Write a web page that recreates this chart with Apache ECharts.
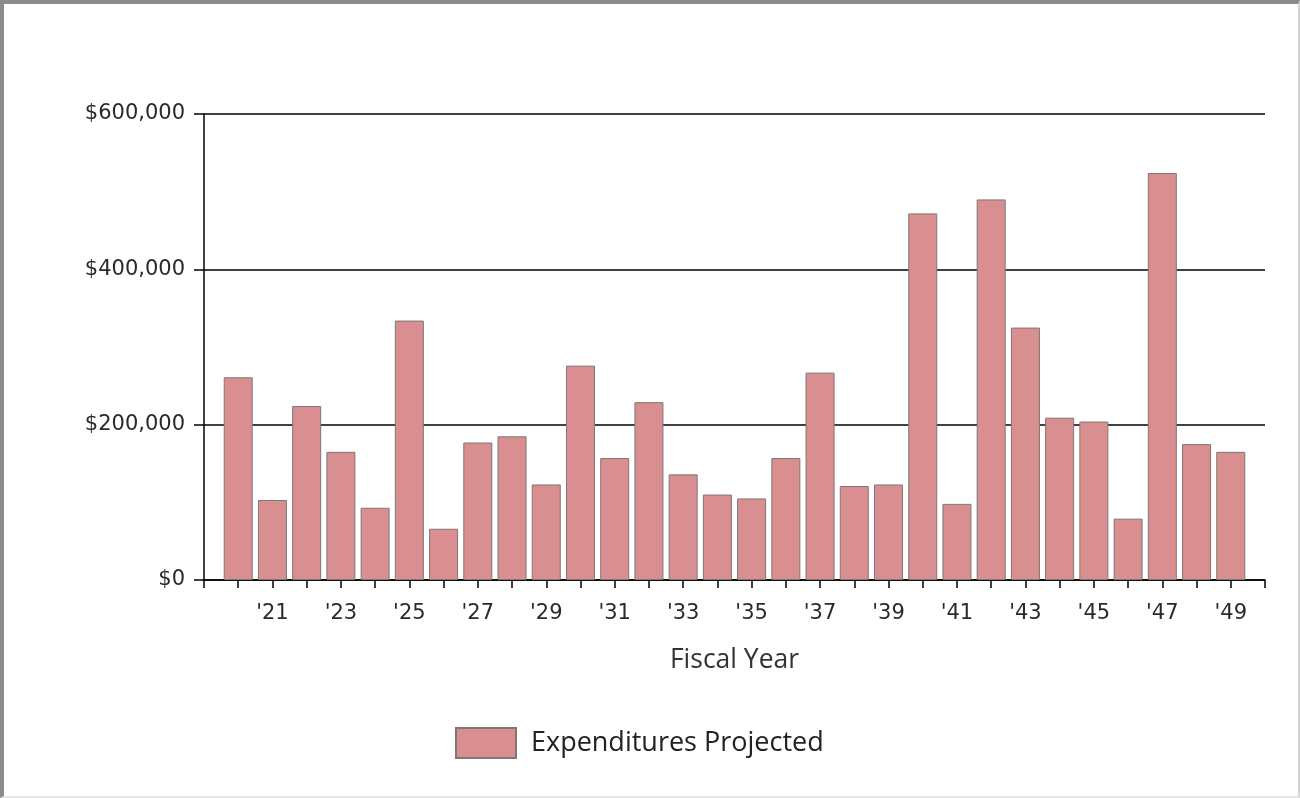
<!DOCTYPE html>
<html>
<head>
<meta charset="utf-8">
<script src="https://cdn.jsdelivr.net/npm/echarts@6/dist/echarts.min.js"></script>
<style>
  html, body { margin: 0; padding: 0; background: #fff; }
  .wrap { position: relative; width: 1300px; height: 798px; }
  #chart { position: absolute; left: 0; top: 0; width: 1300px; height: 798px; }
  .frame {
    position: absolute; left: 0; top: 0; width: 1300px; height: 798px;
    box-sizing: border-box; pointer-events: none;
    border-top: 4px solid #8c8c8c; border-left: 4px solid #8c8c8c;
    border-right: 2px solid #d4d4d4; border-bottom: 2px solid #e6e6e6;
  }
</style>
</head>
<body>
<div class="wrap">
  <div id="chart"></div>
  <div class="frame"></div>
</div>
<script>
// fiscal years ('20 .. '49) and projected expenditures
const years = [20, 21, 22, 23, 24, 25, 26, 27, 28, 29,
               30, 31, 32, 33, 34, 35, 36, 37, 38, 39,
               40, 41, 42, 43, 44, 45, 46, 47, 48, 49];
const expenditures = [261000, 103000, 224000, 165000, 93000, 334000, 66000, 177000, 185000, 123000,
                      276000, 157000, 229000, 136000, 110000, 105000, 157000, 267000, 121000, 123000,
                      472000, 98000, 490000, 325000, 209000, 204000, 79000, 524000, 175000, 165000];
const seriesName = 'Expenditures Projected';
const xAxisName = 'Fiscal Year';

const myChart = echarts.init(document.getElementById('chart'));

const axisFont = '"DejaVu Sans", sans-serif';
const uiFont = '"Open Sans", "Noto Sans", sans-serif';

myChart.setOption({
  animation: false,
  grid: { left: 204, right: 35, top: 114, bottom: 218 },
  xAxis: {
    type: 'value',
    min: 19,
    max: 50,
    interval: 1,
    name: xAxisName,
    nameLocation: 'middle',
    nameGap: 67,
    nameTextStyle: { fontFamily: uiFont, fontSize: 26.5, color: '#333' },
    axisLine: { lineStyle: { color: '#000', width: 1.5 } },
    axisTick: { show: true, length: 8, lineStyle: { color: '#000', width: 1.5 } },
    splitLine: { show: false },
    axisLabel: {
      margin: 23,
      fontFamily: axisFont,
      fontSize: 21,
      color: '#2a2a2a',
      formatter: v => (v >= 21 && v % 2 === 1) ? "'" + v : ''
    }
  },
  yAxis: {
    type: 'value',
    min: 0,
    max: 600000,
    interval: 200000,
    axisLine: { show: true, lineStyle: { color: '#000', width: 1.5 } },
    axisTick: { show: true, length: 10, lineStyle: { color: '#000', width: 1.5 } },
    splitLine: { show: true, lineStyle: { color: '#000', width: 1.5 } },
    axisLabel: {
      margin: 19,
      fontFamily: axisFont,
      fontSize: 21,
      color: '#2a2a2a',
      formatter: v => '$' + v.toLocaleString('en-US')
    }
  },
  legend: {
    left: 450,
    top: 722,
    itemWidth: 60,
    itemHeight: 30,
    icon: 'rect',
    data: [seriesName],
    textStyle: { fontFamily: uiFont, fontSize: 27, color: '#222', padding: [0, 0, 0, 10] }
  },
  series: [{
    name: seriesName,
    type: 'bar',
    barWidth: 29,
    data: years.map((y, i) => [y, expenditures[i]]),
    itemStyle: { color: '#d98f8f', borderColor: '#7f7676', borderWidth: 1 }
  }]
});

window.addEventListener('resize', () => myChart.resize());
</script>
</body>
</html>
